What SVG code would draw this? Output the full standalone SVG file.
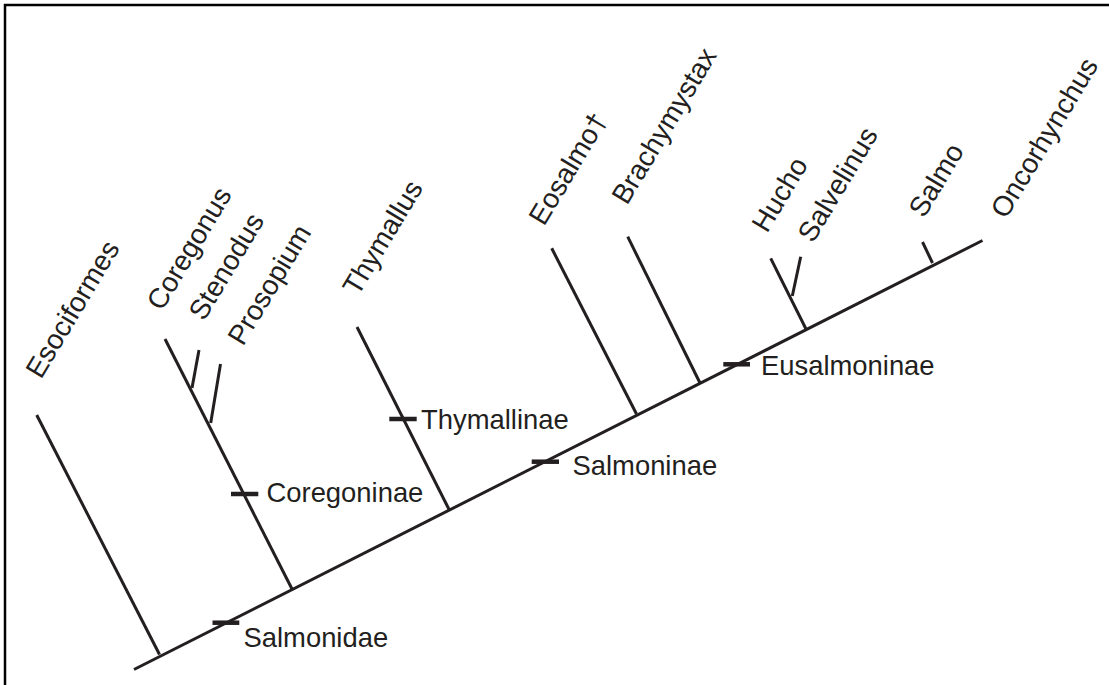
<svg xmlns="http://www.w3.org/2000/svg" width="1109" height="685" viewBox="0 0 1109 685">
<style>
.ln{stroke:#231f20;stroke-width:3;fill:none;stroke-linecap:butt}
.tk{stroke:#231f20;stroke-width:4.5;fill:none}
.frame{stroke:#000;stroke-width:2.5;fill:none}
text{font-family:"Liberation Sans",Arial,sans-serif;font-size:27.4px;fill:#231f20}
.rot{font-size:28px}
</style>
<rect width="1109" height="685" fill="#fff"/>
<g id="frame"><path class="frame" d="M5,685 V5 H1109"/></g>
<g id="connectors">
<line class="ln" x1="134" y1="669.5" x2="982.5" y2="240.5"/>
<line class="ln" x1="36.7" y1="415" x2="159.5" y2="654.5"/>
<line class="ln" x1="165" y1="339" x2="292" y2="589"/>
<line class="ln" x1="199" y1="350" x2="192" y2="388"/>
<line class="ln" x1="220.5" y1="364" x2="210.7" y2="423"/>
<line class="ln" x1="357" y1="327" x2="449.3" y2="510"/>
<line class="ln" x1="551.7" y1="248.3" x2="636.5" y2="414"/>
<line class="ln" x1="627.7" y1="236.7" x2="700" y2="383"/>
<line class="ln" x1="770.7" y1="258.3" x2="806" y2="329"/>
<line class="ln" x1="800.7" y1="256.7" x2="792.3" y2="296"/>
<line class="ln" x1="922.5" y1="242" x2="932.5" y2="263"/>
</g>
<g id="clade-salmonidae"><line class="tk" x1="212.5" y1="622.7" x2="239.3" y2="622.7"/><text x="243.5" y="646.5">Salmonidae</text></g>
<g id="clade-coregoninae"><line class="tk" x1="231" y1="494" x2="258.3" y2="494"/><text x="266.5" y="502">Coregoninae</text></g>
<g id="clade-thymallinae"><line class="tk" x1="389.3" y1="419" x2="416.7" y2="419"/><text x="421" y="428.8">Thymallinae</text></g>
<g id="clade-salmoninae"><line class="tk" x1="531.7" y1="461.7" x2="559" y2="461.7"/><text x="572.5" y="474.5">Salmoninae</text></g>
<g id="clade-eusalmoninae"><line class="tk" x1="723.3" y1="364.3" x2="750" y2="364.3"/><text x="761" y="374.8">Eusalmoninae</text></g>
<g id="taxon-esociformes"><text class="rot" transform="translate(41,380) rotate(-59)">Esociformes</text></g>
<g id="taxon-coregonus"><text class="rot" transform="translate(162,312) rotate(-59)">Coregonus</text></g>
<g id="taxon-stenodus"><text class="rot" transform="translate(204,322) rotate(-59)">Stenodus</text></g>
<g id="taxon-prosopium"><text class="rot" transform="translate(243,347) rotate(-59)">Prosopium</text></g>
<g id="taxon-thymallus"><text class="rot" transform="translate(358,297) rotate(-59)">Thymallus</text></g>
<g id="taxon-eosalmo"><text class="rot" transform="translate(544,227) rotate(-59)">Eosalmo†</text></g>
<g id="taxon-brachymystax"><text class="rot" transform="translate(627,206) rotate(-59)">Brachymystax</text></g>
<g id="taxon-hucho"><text class="rot" transform="translate(767,234) rotate(-59)">Hucho</text></g>
<g id="taxon-salvelinus"><text class="rot" transform="translate(813,244) rotate(-59)">Salvelinus</text></g>
<g id="taxon-salmo"><text class="rot" transform="translate(924,219) rotate(-59)">Salmo</text></g>
<g id="taxon-oncorhynchus"><text class="rot" transform="translate(1006,220) rotate(-59)">Oncorhynchus</text></g>
</svg>
